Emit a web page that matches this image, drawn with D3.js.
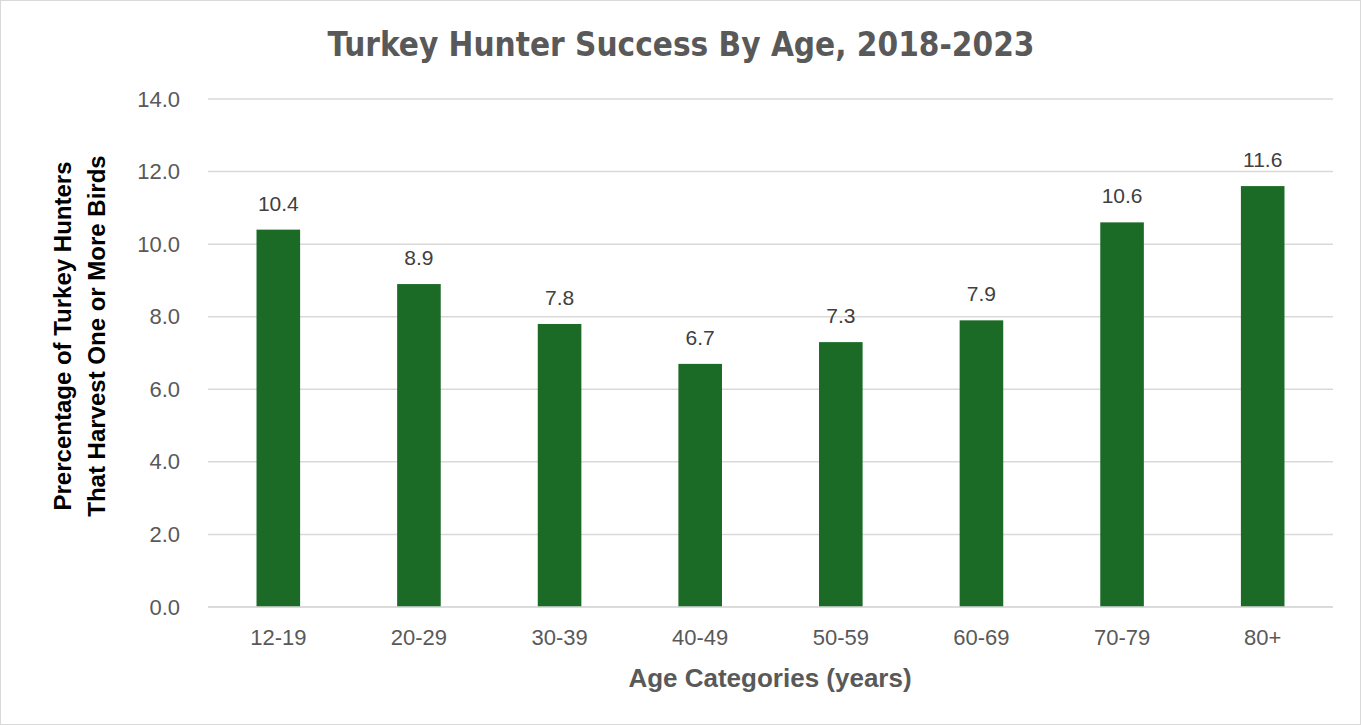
<!DOCTYPE html>
<html>
<head>
<meta charset="utf-8">
<script src="https://cdn.jsdelivr.net/npm/d3@7/dist/d3.min.js"></script>
<style>
  html, body { margin: 0; padding: 0; background: #fff; }
  svg { display: block; }
</style>
</head>
<body>
<svg id="chart" width="1361" height="725"></svg>
<script>
// Share of turkey hunters harvesting one or more birds, by age group
const ageGroups = ["12-19", "20-29", "30-39", "40-49", "50-59", "60-69", "70-79", "80+"];
const successPct = [10.4, 8.9, 7.8, 6.7, 7.3, 7.9, 10.6, 11.6];
const yTicks = [0, 2, 4, 6, 8, 10, 12, 14];

const W = 1361, H = 725;
const plot = { left: 208, right: 1333, top: 99, bottom: 607 };
const bodyFont = "'Liberation Sans', Arial, sans-serif";

const svg = d3.select("#chart");

svg.append("rect")
  .attr("x", 0.5).attr("y", 0.5)
  .attr("width", W - 1).attr("height", H - 1)
  .attr("fill", "#fff").attr("stroke", "#d9d9d9");

const x = d3.scaleBand()
  .domain(ageGroups)
  .range([plot.left, plot.right])
  .paddingInner(0.69)
  .paddingOuter(0.345);

const y = d3.scaleLinear()
  .domain([0, 14])
  .range([plot.bottom, plot.top]);

// Horizontal gridlines
svg.append("g")
  .selectAll("line")
  .data(yTicks)
  .join("line")
  .attr("x1", plot.left).attr("x2", plot.right)
  .attr("y1", d => y(d)).attr("y2", d => y(d))
  .attr("stroke", "#d9d9d9").attr("stroke-width", 1.5);

// Y axis tick labels
const yAxis = d3.axisLeft(y)
  .tickValues(yTicks)
  .tickFormat(d3.format(".1f"))
  .tickSize(0)
  .tickPadding(28);
const gy = svg.append("g").attr("transform", `translate(${plot.left},0)`).call(yAxis);
gy.select(".domain").remove();
gy.selectAll("text")
  .attr("fill", "#595959")
  .style("font-family", bodyFont)
  .style("font-size", "22px");

// Bars
svg.append("g")
  .selectAll("rect")
  .data(ageGroups)
  .join("rect")
  .attr("x", d => x(d))
  .attr("width", x.bandwidth())
  .attr("y", (d, i) => y(successPct[i]))
  .attr("height", (d, i) => y(0) - y(successPct[i]))
  .attr("fill", "#1b6b26");

// Baseline over the bars
svg.append("line")
  .attr("x1", plot.left).attr("x2", plot.right)
  .attr("y1", y(0)).attr("y2", y(0))
  .attr("stroke", "#d9d9d9").attr("stroke-width", 1.5);

// Value labels
svg.append("g")
  .selectAll("text")
  .data(ageGroups)
  .join("text")
  .attr("x", d => x(d) + x.bandwidth() / 2)
  .attr("y", (d, i) => y(successPct[i]) - 19)
  .attr("text-anchor", "middle")
  .attr("fill", "#404040")
  .style("font-family", bodyFont)
  .style("font-size", "21px")
  .text((d, i) => d3.format(".1f")(successPct[i]));

// X axis tick labels
const xAxis = d3.axisBottom(x).tickSize(0).tickPadding(22);
const gx = svg.append("g").attr("transform", `translate(0,${plot.bottom})`).call(xAxis);
gx.select(".domain").remove();
gx.selectAll("text")
  .attr("fill", "#595959")
  .style("font-family", bodyFont)
  .style("font-size", "22px");

// Title
svg.append("text")
  .attr("x", 681).attr("y", 56)
  .attr("text-anchor", "middle")
  .attr("fill", "#595959")
  .style("font-family", "'Liberation Sans Narrow', 'DejaVu Sans Condensed', sans-serif")
  .style("font-weight", "bold")
  .style("font-size", "33px")
  .text("Turkey Hunter Success By Age, 2018-2023");

// X axis title
svg.append("text")
  .attr("x", 770).attr("y", 687)
  .attr("text-anchor", "middle")
  .attr("fill", "#595959")
  .style("font-family", bodyFont)
  .style("font-weight", "bold")
  .style("font-size", "26px")
  .text("Age Categories (years)");

// Y axis title, two lines
const yTitle = svg.append("text")
  .attr("transform", "translate(0,336) rotate(-90)")
  .attr("text-anchor", "middle")
  .attr("fill", "#000")
  .style("font-family", bodyFont)
  .style("font-weight", "bold")
  .style("font-size", "24px");
yTitle.append("tspan").attr("x", 0).attr("y", 71).text("Prercentage of Turkey Hunters");
yTitle.append("tspan").attr("x", 0).attr("y", 105).text("That Harvest One or More Birds");
</script>
</body>
</html>
